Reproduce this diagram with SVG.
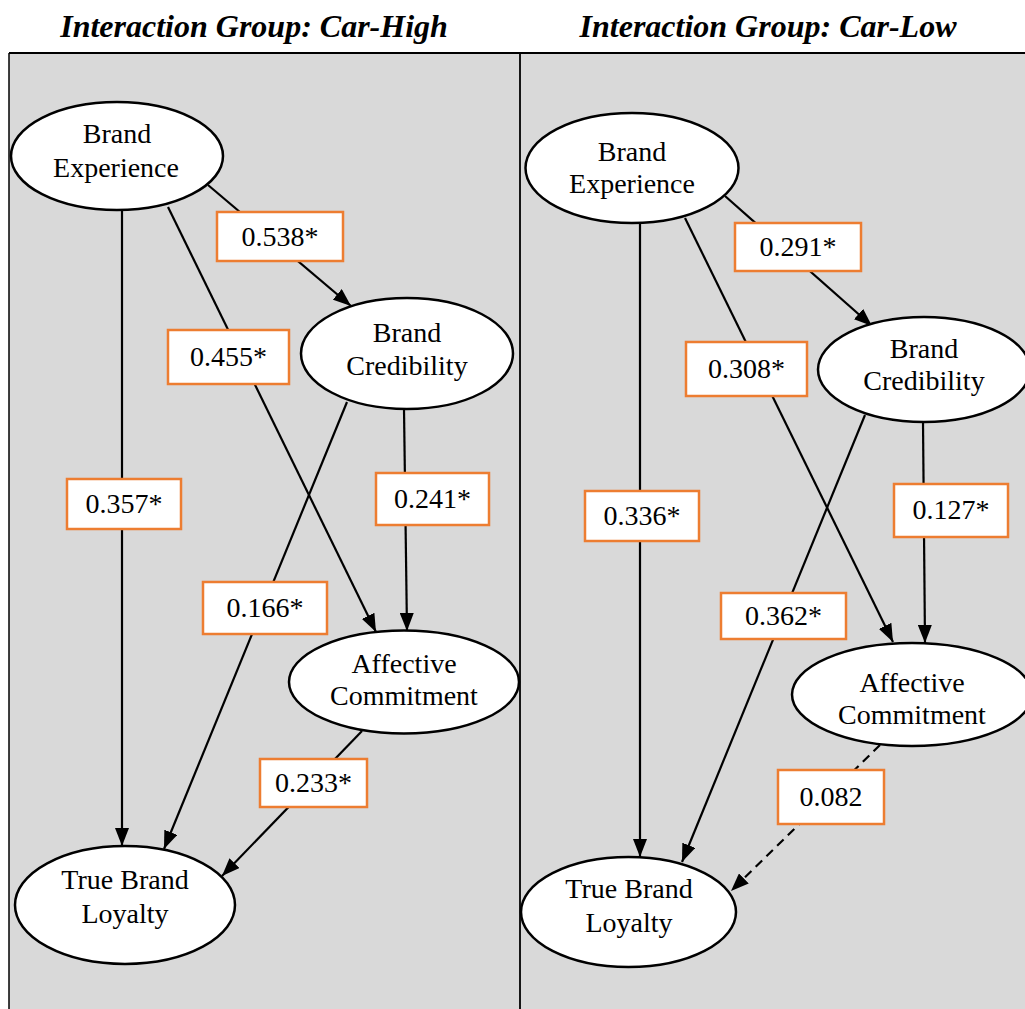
<svg xmlns="http://www.w3.org/2000/svg" width="1025" height="1009" viewBox="0 0 1025 1009">
  <style>
    .title { font-family: "Liberation Serif", "Times New Roman", serif; font-size: 32px; font-weight: bold; font-style: italic; fill: #000; text-anchor: middle; }
    .node ellipse { fill: #fff; stroke: #000; stroke-width: 2.5; }
    .node text { font-family: "Liberation Serif", "Times New Roman", serif; font-size: 28px; fill: #000; text-anchor: middle; }
    .edge { stroke: #000; stroke-width: 2.2; fill: none; marker-end: url(#arrow); }
    .dashed { stroke-dasharray: 9 6; }
    .label rect { fill: #fff; stroke: #ED7D31; stroke-width: 2.5; }
    .label text { font-family: "Liberation Serif", "Times New Roman", serif; font-size: 28px; fill: #000; text-anchor: middle; }
    .frame { stroke: #000; fill: none; }
  </style>
  <defs>
    <marker id="arrow" viewBox="0 0 18 14" refX="18" refY="7" markerWidth="18" markerHeight="14" markerUnits="userSpaceOnUse" orient="auto">
      <path d="M0,0 L18,7 L0,14 z" fill="#000"/>
    </marker>
  </defs>

  <rect width="1025" height="1009" fill="#fff"/>

  <!-- panel titles -->
  <text class="title" x="254" y="37">Interaction Group: Car-High</text>
  <text class="title" x="768" y="37">Interaction Group: Car-Low</text>

  <!-- panel backgrounds and frame -->
  <rect x="9" y="53" width="1030" height="970" fill="#d9d9d9"/>
  <line class="frame" x1="9" y1="53" x2="1025" y2="53" stroke-width="2.2"/>
  <line class="frame" x1="9" y1="53" x2="9" y2="1009" stroke-width="1.5"/>
  <line class="frame" x1="520" y1="53" x2="520" y2="1009" stroke-width="1.8"/>

  <!-- connectors -->
  <g id="connectors">
    <!-- Car-High -->
    <line class="edge" x1="208" y1="185" x2="351" y2="306"/>
    <line class="edge" x1="168" y1="207" x2="376" y2="632"/>
    <line class="edge" x1="122" y1="211" x2="122" y2="846"/>
    <line class="edge" x1="404" y1="409" x2="407" y2="631"/>
    <line class="edge" x1="347" y1="402" x2="164" y2="849"/>
    <line class="edge" x1="362" y1="731" x2="222" y2="876"/>
    <!-- Car-Low -->
    <line class="edge" x1="725" y1="196" x2="872" y2="326"/>
    <line class="edge" x1="685" y1="218" x2="893" y2="642"/>
    <line class="edge" x1="640" y1="223" x2="640" y2="857"/>
    <line class="edge" x1="923" y1="422" x2="925" y2="643"/>
    <line class="edge" x1="865" y1="415" x2="682" y2="862"/>
    <line class="edge dashed" x1="880" y1="745" x2="731" y2="891"/>
  </g>

  <!-- path coefficients -->
  <g id="labels">
    <g class="label"><rect x="217" y="212" width="126" height="49"/><text x="280" y="246">0.538*</text></g>
    <g class="label"><rect x="168" y="330" width="121" height="54"/><text x="228.5" y="366">0.455*</text></g>
    <g class="label"><rect x="67" y="479" width="114" height="50"/><text x="124" y="513">0.357*</text></g>
    <g class="label"><rect x="376" y="473" width="113" height="52"/><text x="432.5" y="508">0.241*</text></g>
    <g class="label"><rect x="203" y="582" width="124" height="52"/><text x="265" y="617">0.166*</text></g>
    <g class="label"><rect x="260" y="759" width="107" height="48"/><text x="313.5" y="792">0.233*</text></g>

    <g class="label"><rect x="735" y="223" width="126" height="48"/><text x="798" y="256">0.291*</text></g>
    <g class="label"><rect x="686" y="342" width="121" height="54"/><text x="746.5" y="378">0.308*</text></g>
    <g class="label"><rect x="585" y="491" width="114" height="50"/><text x="642" y="525">0.336*</text></g>
    <g class="label"><rect x="721" y="593" width="125" height="46"/><text x="783.5" y="625">0.362*</text></g>
    <g class="label"><rect x="894" y="484" width="114" height="53"/><text x="951" y="519">0.127*</text></g>
    <g class="label"><rect x="778" y="770" width="106" height="54"/><text x="831" y="806">0.082</text></g>
  </g>

  <!-- Car-High nodes -->
  <g id="high-experience" class="node">
    <ellipse cx="117" cy="156" rx="106" ry="54"/>
    <text x="117" y="143">Brand</text>
    <text x="116" y="177">Experience</text>
  </g>
  <g id="high-credibility" class="node">
    <ellipse cx="407" cy="353.5" rx="106" ry="55.5"/>
    <text x="407" y="342">Brand</text>
    <text x="407" y="375">Credibility</text>
  </g>
  <g id="high-commitment" class="node">
    <ellipse cx="404" cy="682" rx="115" ry="51.5"/>
    <text x="404" y="673">Affective</text>
    <text x="404" y="705">Commitment</text>
  </g>
  <g id="high-loyalty" class="node">
    <ellipse cx="125" cy="905" rx="110" ry="59"/>
    <text x="125" y="889">True Brand</text>
    <text x="125" y="923">Loyalty</text>
  </g>

  <!-- Car-Low nodes -->
  <g id="low-experience" class="node">
    <ellipse cx="632" cy="168" rx="106.5" ry="55"/>
    <text x="632" y="161">Brand</text>
    <text x="632" y="193">Experience</text>
  </g>
  <g id="low-credibility" class="node">
    <ellipse cx="924" cy="369.5" rx="106" ry="52.5"/>
    <text x="924" y="358">Brand</text>
    <text x="924" y="390">Credibility</text>
  </g>
  <g id="low-commitment" class="node">
    <ellipse cx="912" cy="694.5" rx="120" ry="51.5"/>
    <text x="912" y="692">Affective</text>
    <text x="912" y="724">Commitment</text>
  </g>
  <g id="low-loyalty" class="node">
    <ellipse cx="628.5" cy="912" rx="107.5" ry="55"/>
    <text x="629" y="898">True Brand</text>
    <text x="629" y="932">Loyalty</text>
  </g>
</svg>
